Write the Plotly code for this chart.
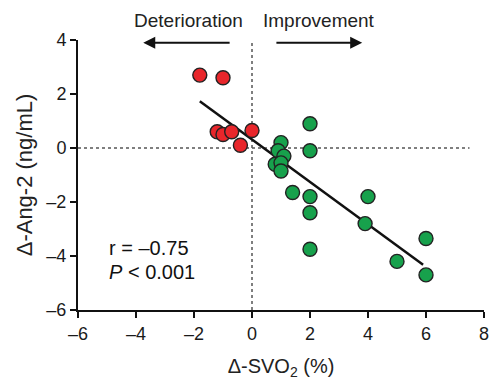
import plotly.graph_objects as go

# Data
red_x = [-1.8, -1.0, -1.2, -1.0, -0.7, 0.0, -0.4]
red_y = [2.7, 2.6, 0.6, 0.5, 0.6, 0.65, 0.1]

green_x = [2.0, 1.0, 0.9, 2.0, 1.1, 0.8, 1.0, 1.0, 1.4, 2.0, 2.0, 4.0, 3.9, 2.0, 6.0, 5.0, 6.0]
green_y = [0.9, 0.2, -0.1, -0.1, -0.3, -0.6, -0.55, -0.85, -1.65, -1.8, -2.4, -1.8, -2.8, -3.75, -3.35, -4.2, -4.7]

fit_x = [-1.8, 5.9]
fit_y = [1.73, -4.32]

x_ticks = [-6, -4, -2, 0, 2, 4, 6, 8]
y_ticks = [-6, -4, -2, 0, 2, 4]

def lab(v):
    return ("–" + str(abs(v))) if v < 0 else str(v)

FONT = "Liberation Sans, Arial, sans-serif"

W, H = 491, 380
ml, mr, mt, mb = 78, 7, 40, 70
pw, ph = W - ml - mr, H - mt - mb

def px(xp):
    return (xp - ml) / pw

def py(yp):
    return 1 - (yp - mt) / ph

fig = go.Figure()

# reference dotted lines
fig.add_shape(type="line", x0=0, x1=0, y0=-6, y1=4.05, xref="x", yref="y",
              line=dict(color="#555", width=1.5, dash="dot"), layer="below")
fig.add_shape(type="line", x0=-6, x1=7.5, y0=0, y1=0, xref="x", yref="y",
              line=dict(color="#555", width=1.5, dash="dot"), layer="below")

fig.add_trace(go.Scatter(x=fit_x, y=fit_y, mode="lines",
                         line=dict(color="#111", width=2.5), showlegend=False))

marker_common = dict(size=14, line=dict(color="#222", width=1.4))
fig.add_trace(go.Scatter(x=red_x, y=red_y, mode="markers",
                         marker=dict(color="#e8262b", **marker_common), showlegend=False))
fig.add_trace(go.Scatter(x=green_x, y=green_y, mode="markers",
                         marker=dict(color="#17a14c", **marker_common), showlegend=False))

# arrows and labels
fig.add_annotation(x=-3.75, y=3.9, ax=-0.72, ay=3.9, xref="x", yref="y",
                   axref="x", ayref="y", showarrow=True, arrowhead=2, arrowsize=1.2,
                   arrowwidth=2, arrowcolor="#111", text="")
fig.add_annotation(x=3.8, y=3.9, ax=0.79, ay=3.9, xref="x", yref="y",
                   axref="x", ayref="y", showarrow=True, arrowhead=2, arrowsize=1.2,
                   arrowwidth=2, arrowcolor="#111", text="")
fig.add_annotation(x=px(188), y=py(21), xref="paper", yref="paper", text="Deterioration",
                   xanchor="center", yanchor="middle",
                   showarrow=False, font=dict(family=FONT, size=19, color="#222"))
fig.add_annotation(x=px(319), y=py(21), xref="paper", yref="paper", text="Improvement",
                   xanchor="center", yanchor="middle",
                   showarrow=False, font=dict(family=FONT, size=19, color="#222"))

fig.add_annotation(x=px(107), y=py(248), xref="paper", yref="paper", text="r = –0.75",
                   showarrow=False, xanchor="left", yanchor="middle",
                   font=dict(family=FONT, size=20, color="#111"))
fig.add_annotation(x=px(107), y=py(272), xref="paper", yref="paper", text="<i>P</i> < 0.001",
                   showarrow=False, xanchor="left", yanchor="middle",
                   font=dict(family=FONT, size=20, color="#111"))

fig.update_layout(
    width=W, height=H,
    margin=dict(l=ml, r=mr, t=mt, b=mb),
    plot_bgcolor="white", paper_bgcolor="white",
    font=dict(family=FONT, size=15, color="#222"),
    xaxis=dict(range=[-6, 8], tickvals=x_ticks, ticktext=[lab(v) for v in x_ticks],
               showgrid=False, zeroline=False, showline=True, linecolor="#111",
               linewidth=2, ticks="outside", ticklen=6, tickwidth=2, tickcolor="#111",
               automargin=False,
               tickfont=dict(family=FONT, size=18, color="#1a1a1a"),
               title=dict(text="Δ-SVO<sub>2</sub> (%)", font=dict(family=FONT, size=20, color="#222"),
                          standoff=16)),
    yaxis=dict(range=[-6, 4], tickvals=y_ticks, ticktext=[lab(v) for v in y_ticks],
               showgrid=False, zeroline=False, showline=True, linecolor="#111",
               linewidth=2, ticks="outside", ticklen=6, tickwidth=2, tickcolor="#111",
               automargin=False,
               tickfont=dict(family=FONT, size=18, color="#1a1a1a"),
               title=dict(text="Δ-Ang-2 (ng/mL)", font=dict(family=FONT, size=22, color="#222"),
                          standoff=8)),
)

fig.write_html("out.html", config={"displayModeBar": False},
               post_script="document.body.style.margin='0px';")
